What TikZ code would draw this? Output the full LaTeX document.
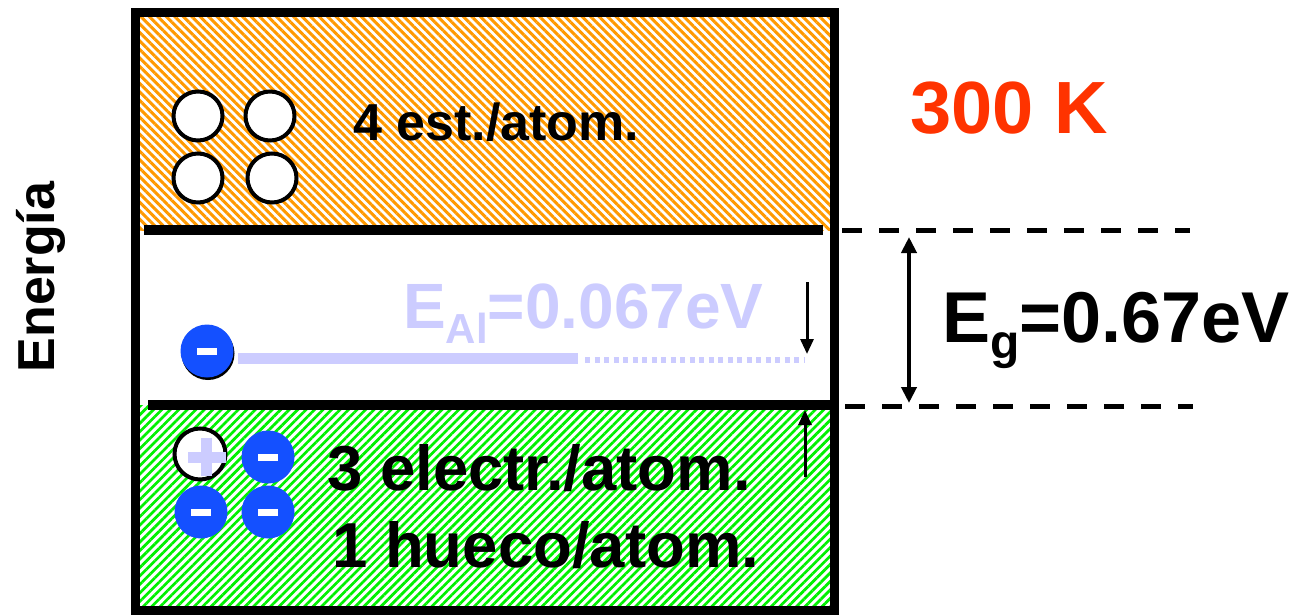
\documentclass[tikz,border=0pt]{standalone}
\usepackage{fontspec}
\setmainfont{Liberation Sans}
\usetikzlibrary{arrows.meta,patterns.meta,shadows}
\definecolor{bandorange}{HTML}{FF9900}
\definecolor{bandgreen}{HTML}{00F000}
\definecolor{lila}{HTML}{CCCCFF}
\definecolor{eblue}{HTML}{1450FF}
\definecolor{tempred}{HTML}{FF3300}

\begin{document}
\begin{tikzpicture}[x=1pt,y=-1pt,
  lbl/.style={anchor=base west, inner sep=0pt, font=\bfseries\fontsize{#1}{#1}\selectfont},
  state/.style={circle, draw=black, line width=4pt, fill=white, minimum size=49pt, inner sep=0pt},
  electron/.style={circle, fill=eblue, minimum size=53pt, inner sep=0pt, text=white},
  hole/.style={state, minimum size=51pt},
  tip/.style={-{Triangle[length=15pt,width=13pt]}, line width=3pt}]
\useasboundingbox (0,0) rectangle (1301,614);
% bands
\fill[pattern={Lines[angle=-45,distance=6pt,line width=3pt]}, pattern color=bandorange] (135,12) rectangle (834,230);
\fill[pattern={Lines[angle=45,distance=6pt,line width=2.7pt]}, pattern color=bandgreen] (135,405) rectangle (834,610);
\draw[line width=9pt] (135,12) rectangle (834,610);
\draw[line width=10pt] (144,230) -- (823,230);
\draw[line width=10pt] (148,405) -- (834,405);
% conduction band
\node[state] (c1) at (198,116) {};
\node[state] (c2) at (270,116) {};
\node[state] (c3) at (198,178) {};
\node[state] (c4) at (272,178) {};
\node[lbl=52] (cbtxt) at (353,140) {4 est./atom.};
\node[lbl=74, text=tempred] (temp) at (910,133) {300 K};
% acceptor level
\node[electron, general shadow={fill=black, shadow xshift=1pt, shadow yshift=-2.5pt}] (ea) at (207,351) {\rule{20pt}{7pt}};
\coordinate (lvl1) at (238,358);
\coordinate (lvl2) at (578,358);
\coordinate (lvl3) at (585,360);
\coordinate (lvl4) at (805,360);
\draw[lila, line width=11pt] (lvl1) -- (lvl2);
\draw[lila, line width=5.5pt, dash pattern=on 5pt off 4.5pt] (lvl3) -- (lvl4);
\node[lbl=64, text=lila] (eal) at (403,328) {E\raisebox{-15pt}{\fontsize{42}{42}\selectfont Al}=0.067eV};
\coordinate (dn1) at (807,282);
\coordinate (dn2) at (807,354);
\draw[tip] (dn1) -- (dn2);
% valence band
\node[hole] (h1) at (200,454) {};
\node[text=lila, inner sep=0pt] (hp) at ([yshift=-3pt]h1.center) {\rlap{\rule[-5.5pt]{38pt}{11pt}}\hspace{13.5pt}\rule[-19pt]{11pt}{38pt}\hspace{13.5pt}};
\node[electron] (v1) at (268,457) {\rule{20pt}{7pt}};
\node[electron] (v2) at (201,512) {\rule{20pt}{7pt}};
\node[electron] (v3) at (268,512) {\rule{20pt}{7pt}};
\node[lbl=63.5] (vbtxt1) at (327,490) {3 electr./atom.};
\node[lbl=63.5] (vbtxt2) at (332,567) {1 hueco/atom.};
\coordinate (up1) at (805,477);
\coordinate (up2) at (805,410);
\draw[tip] (up1) -- (up2);
% gap
\coordinate (dl1) at (842,230);
\coordinate (dl2) at (1190,230);
\coordinate (dl3) at (845,406);
\coordinate (dl4) at (1193,406);
\draw[line width=5pt, dash pattern=on 20pt off 17pt] (dl1) -- (dl2);
\draw[line width=5pt, dash pattern=on 20pt off 17pt] (dl3) -- (dl4);
\coordinate (gtop) at (909,237);
\coordinate (gbot) at (909,403);
\draw[{Triangle[length=16pt,width=15pt]}-{Triangle[length=16pt,width=15pt]}, line width=4pt] (gtop) -- (gbot);
\node[lbl=72] (eg) at (942,342) {E\raisebox{-16pt}{\fontsize{48}{48}\selectfont g}=0.67eV};
\node[rotate=90, inner sep=0pt, font=\bfseries\fontsize{52}{52}\selectfont] (energia) at (41,277) {Energía};
\end{tikzpicture}
\end{document}
